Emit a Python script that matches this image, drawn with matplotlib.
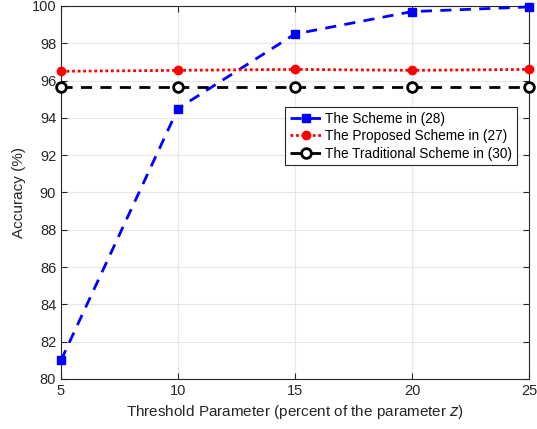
import matplotlib
matplotlib.use('Agg')
import matplotlib.pyplot as plt
import numpy as np

# ----------------- Data -----------------
threshold = [5, 10, 15, 20, 25]
scheme_28 = [81.0, 94.5, 98.5, 99.7, 99.95]
proposed_27 = [96.5, 96.55, 96.6, 96.55, 96.6]
traditional_30 = [95.65, 95.65, 95.65, 95.65, 95.65]

x_ticks = [5, 10, 15, 20, 25]
y_ticks = [80, 82, 84, 86, 88, 90, 92, 94, 96, 98, 100]

plt.rcParams['font.family'] = ['Liberation Sans', 'DejaVu Sans']
AX_COLOR = '#262626'

fig = plt.figure(figsize=(5.37, 4.29), dpi=100)
ax = fig.add_axes([61/537, 1 - 379/429, 468/537, 373/429])

ax.plot(threshold, scheme_28, color='blue', linestyle=(0, (4, 3)), linewidth=2,
        marker='s', markersize=6, markerfacecolor='blue', markeredgecolor='blue',
        label='The Scheme in (28)', clip_on=False, zorder=3)
ax.plot(threshold, proposed_27, color='red', linestyle=(0, (1, 1)), linewidth=2,
        marker='o', markersize=6, markerfacecolor='red', markeredgecolor='red',
        label='The Proposed Scheme in (27)', clip_on=False, zorder=3)
ax.plot(threshold, traditional_30, color='black', linestyle=(0, (4, 3)), linewidth=2,
        marker='o', markersize=7, markerfacecolor='white', markeredgecolor='black',
        markeredgewidth=2, label='The Traditional Scheme in (30)', clip_on=False, zorder=3)

ax.set_xlim(5, 25)
ax.set_ylim(80, 100)
ax.set_xticks(x_ticks)
ax.set_yticks(y_ticks)
ax.grid(True, color='#e6e6e6', linewidth=0.8)
ax.set_axisbelow(True)
ax.tick_params(direction='in', length=4, colors=AX_COLOR, labelsize=10.5,
               top=True, right=True, labeltop=False, labelright=False)
for sp in ax.spines.values():
    sp.set_color(AX_COLOR)
    sp.set_linewidth(0.8)

ax.set_xlabel('Threshold Parameter (percent of the parameter $z$)', fontsize=11, color=AX_COLOR)
ax.set_ylabel('Accuracy (%)', fontsize=11, color=AX_COLOR)

leg = ax.legend(loc='upper right', bbox_to_anchor=(0.974, 0.729), fontsize=9.8,
                fancybox=False, framealpha=1, edgecolor=AX_COLOR,
                borderpad=0.35, labelspacing=0.25, handlelength=2.4, handletextpad=0.2,
                borderaxespad=0)
leg.get_frame().set_linewidth(0.8)

fig.savefig('out.png', dpi=100)
